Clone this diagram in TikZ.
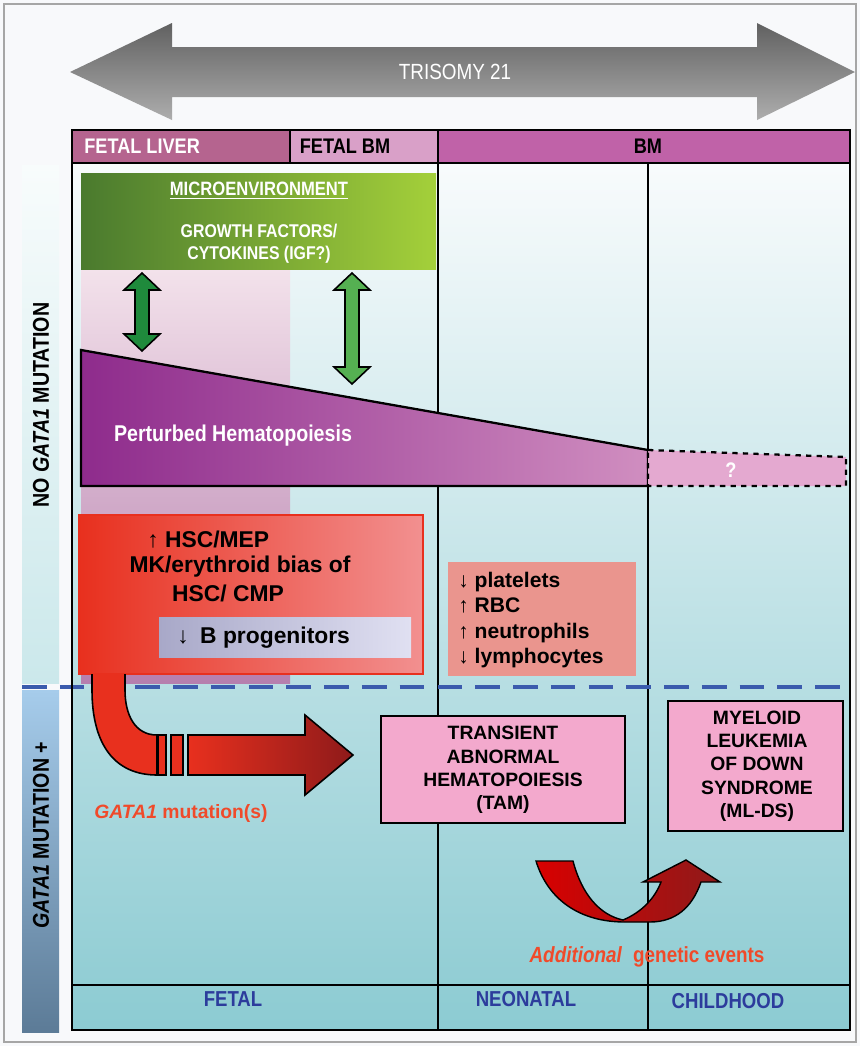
\documentclass[tikz,border=0pt]{standalone}
\usepackage{fontspec}
\setmainfont{Liberation Sans}
\newfontfamily\narrowfont[FakeStretch=0.86]{Liberation Sans}
\definecolor{pagebg}{HTML}{F8F9FB}
\definecolor{liverpink}{HTML}{B5648F}
\definecolor{fbmpink}{HTML}{D9A0C8}
\definecolor{bmpurple}{HTML}{C062A8}
\definecolor{bgtop}{HTML}{F8FBFC}
\definecolor{bgmid}{HTML}{CDE9EC}
\definecolor{bgbot}{HTML}{8CCBD2}
\definecolor{darkleaf}{HTML}{4A7A2E}
\definecolor{lightleaf}{HTML}{A4D03A}
\definecolor{arrowdark}{HTML}{1F8A3C}
\definecolor{arrowlight}{HTML}{55B052}
\definecolor{pertA}{HTML}{8E2B8C}
\definecolor{pertB}{HTML}{D08EC0}
\definecolor{qpink}{HTML}{E4A9D0}
\definecolor{colpinkA}{HTML}{F3E2EB}
\definecolor{colpinkB}{HTML}{B67FAE}
\definecolor{redA}{HTML}{E8301E}
\definecolor{redB}{HTML}{F29090}
\definecolor{bprogA}{HTML}{A8A8C8}
\definecolor{bprogB}{HTML}{E0E0F2}
\definecolor{salmon}{HTML}{EA958E}
\definecolor{dashblue}{HTML}{3B5BAD}
\definecolor{tampink}{HTML}{F3A9CD}
\definecolor{darkred}{HTML}{8E1A1A}
\definecolor{mutred}{HTML}{F04A2A}
\definecolor{ageblue}{HTML}{2C3C9C}
\definecolor{barA}{HTML}{A6CCEB}
\definecolor{barB}{HTML}{5C7B97}
\definecolor{nobarA}{HTML}{F8FCFC}
\definecolor{nobarB}{HTML}{CBE8EB}
\tikzset{
  frameline/.style={draw=black, line width=1.6pt},
  gridline/.style={draw=black, line width=1.1pt},
  hdrtext/.style={inner sep=0pt, font=\narrowfont\bfseries\fontsize{12}{14}\selectfont},
  agetext/.style={inner sep=0pt, text=ageblue, font=\narrowfont\bfseries\fontsize{12.3}{14}\selectfont},
  greentext/.style={inner sep=0pt, text=white, align=center, font=\narrowfont\bfseries\fontsize{10.5}{12.5}\selectfont},
  redtext/.style={inner sep=0pt, font=\bfseries\fontsize{13}{15}\selectfont},
  celltext/.style={inner sep=0pt, align=left, font=\bfseries\fontsize{12}{14.3}\selectfont},
  diseasetext/.style={inner sep=0pt, align=center, font=\bfseries\fontsize{11}{13.3}\selectfont},
  sidetext/.style={inner sep=0pt, rotate=90, font=\narrowfont\bfseries\fontsize{13}{15}\selectfont},
  diseasebox/.style={draw=black, line width=1.4pt, fill=tampink},
}
\begin{document}
\begin{tikzpicture}[x=0.02cm,y=-0.02cm]
    \useasboundingbox (0,0) rectangle (860,1046);
    %page
    \fill[pagebg] (0,0) rectangle (860,1046);
    \draw[gray!70, line width=0.6pt] (4,4) rectangle (856,1042);
    %trisomy arrow
    \shade[top color=black!62, bottom color=black!32]
      (70,72) -- (172,23) -- (172,47) -- (757,47) -- (757,23) -- (855,72)
      -- (757,120) -- (757,97) -- (172,97) -- (172,120) -- cycle;
    \node[text=white, inner sep=0pt, font=\narrowfont\fontsize{12.5}{14}\selectfont] (trisomy) at (455,72) {TRISOMY 21};
    %background of the table
    \shade[top color=bgtop, middle color=bgmid, bottom color=bgbot] (72,163) rectangle (850,1030);
    %side bars
    \shade[top color=nobarA, bottom color=nobarB] (22,165) rectangle (59,683);
    \shade[top color=barA, bottom color=barB] (22,690) rectangle (59,1032);
    \node[sidetext] (nomut) at (41,405) {NO \textit{GATA1} MUTATION};
    \node[sidetext] (mut) at (41,835) {\textit{GATA1} MUTATION +};
    %header
    \fill[liverpink] (72,130) rectangle (290,163);
    \fill[fbmpink] (290,130) rectangle (438,163);
    \fill[bmpurple] (438,130) rectangle (850,163);
    \node[hdrtext, text=white, anchor=west] (liver) at (84,146) {FETAL LIVER};
    \node[hdrtext] (fetalbm) at (345,146) {FETAL BM};
    \node[hdrtext] (bm) at (648,146) {BM};
    %fetal liver column
    \shade[top color=colpinkA, bottom color=colpinkB] (81,269) rectangle (290,683);
    %microenvironment
    \shade[left color=darkleaf, right color=lightleaf] (81,173) rectangle (436,269);
    \node[greentext, font=\narrowfont\bfseries\fontsize{11}{13}\selectfont] (micro) at (259,191) {\underline{MICROENVIRONMENT}};
    \node[greentext] (growth) at (259,244) {GROWTH FACTORS/\\CYTOKINES (IGF?)};
    %grid
    \draw[gridline] (438,163) -- (438,1030);
    \draw[gridline] (648,163) -- (648,1030);
    \draw[gridline] (72,985) -- (850,985);
    %green arrows
    \draw[fill=arrowdark, line width=0.9pt] (142,273) -- (160,290) -- (149,290) -- (149,334) -- (160,334)
      -- (142,351) -- (124,334) -- (135,334) -- (135,290) -- (124,290) -- cycle;
    \draw[fill=arrowlight, line width=0.9pt] (352,273) -- (370,290) -- (359,290) -- (359,367) -- (370,367)
      -- (352,384) -- (334,367) -- (345,367) -- (345,290) -- (334,290) -- cycle;
    %perturbed hematopoiesis
    \path[left color=pertA, right color=pertB, draw=black, line width=1.3pt]
      (81,350) -- (648,450) -- (648,486) -- (81,486) -- cycle;
    \draw[fill=qpink, dashed, line width=1.3pt] (648,450) -- (846,457) -- (846,486) -- (648,486) -- cycle;
    \node[text=white, inner sep=0pt, font=\narrowfont\bfseries\fontsize{13}{15}\selectfont] (pert) at (233,436) {Perturbed Hematopoiesis};
    \node[text=white, inner sep=0pt, font=\narrowfont\bfseries\fontsize{12}{14}\selectfont] (unknown) at (731,470) {?};
    %fetal findings
    \path[left color=redA, right color=redB, draw=redA, line width=0.8pt] (79,515) rectangle (423,674);
    \node[redtext, anchor=west] (hsc) at (147,540) {↑ HSC/MEP};
    \node[redtext] (bias) at (240,567) {MK/erythroid bias of};
    \node[redtext] (cmp) at (228,593) {HSC/ CMP};
    \shade[left color=bprogA, right color=bprogB] (159,617) rectangle (411,657);
    \node[redtext, anchor=west] (bprog) at (177,638) {↓\enspace B progenitors};
    %neonatal findings
    \fill[salmon] (448,562) rectangle (636,676);
    \node[celltext, anchor=west] (cells) at (458,620) {↓ platelets\\↑ RBC\\↑ neutrophils\\↓ lymphocytes};
    %mutation line
    \draw[dashblue, line width=2.4pt, dash pattern=on 14pt off 7.5pt] (22,687) -- (850,687);
    %gata1 arrow
    \fill[redA] (92,674) -- (92,690) .. controls (92,745) and (115,775) .. (157,775)
      -- (157,735) .. controls (135,735) and (125,715) .. (125,690) -- (125,674) -- cycle;
    \draw[line width=0.9pt] (92,674) -- (92,690) .. controls (92,745) and (115,775) .. (157,775)
      -- (157,735) .. controls (135,735) and (125,715) .. (125,690) -- (125,674);
    \draw[fill=redA, line width=0.9pt] (158,735) rectangle (166,775);
    \draw[fill=redA, line width=0.9pt] (171,735) rectangle (183,775);
    \path[left color=redA, right color=darkred, draw=black, line width=0.9pt]
      (188,735) -- (305,735) -- (305,715) -- (353,755) -- (305,795) -- (305,775) -- (188,775) -- cycle;
    \node[text=mutred, inner sep=0pt, font=\bfseries\fontsize{11}{13}\selectfont] (gata) at (181,813) {\textit{GATA1} mutation(s)};
    %disease boxes
    \draw[diseasebox] (381,716) rectangle (625,823);
    \node[diseasetext] (tam) at (503,770) {TRANSIENT\\ABNORMAL\\HEMATOPOIESIS\\(TAM)};
    \draw[diseasebox] (668,701) rectangle (843,831);
    \node[diseasetext] (mlds) at (757,766) {MYELOID\\LEUKEMIA\\OF DOWN\\SYNDROME\\(ML-DS)};
    %additional events arrow
    \path[left color=red!85!black, right color=darkred, draw=black, line width=0.8pt]
      (536,861) -- (573,861) .. controls (582,895) and (600,915) .. (623,920)
      .. controls (642,912) and (655,898) .. (661,882) -- (643,882) -- (686,860) -- (720,882) -- (701,882)
      .. controls (692,908) and (675,922) .. (650,922) -- (625,922)
      .. controls (580,922) and (548,900) .. (536,861) -- cycle;
    \node[text=mutred, inner sep=0pt, font=\narrowfont\bfseries\fontsize{12.5}{14}\selectfont] (events) at (647,957) {\textit{Additional}\enspace genetic events};
    %age labels
    \node[agetext] (fetal) at (233,999) {FETAL};
    \node[agetext] (neonatal) at (526,999) {NEONATAL};
    \node[agetext] (child) at (728,1001) {CHILDHOOD};
    %frame
    \draw[gridline] (72,163) -- (850,163);
    \draw[gridline] (290,130) -- (290,163);
    \draw[gridline] (438,130) -- (438,163);
    \draw[frameline] (72,130) rectangle (850,1030);
\end{tikzpicture}
\end{document}
